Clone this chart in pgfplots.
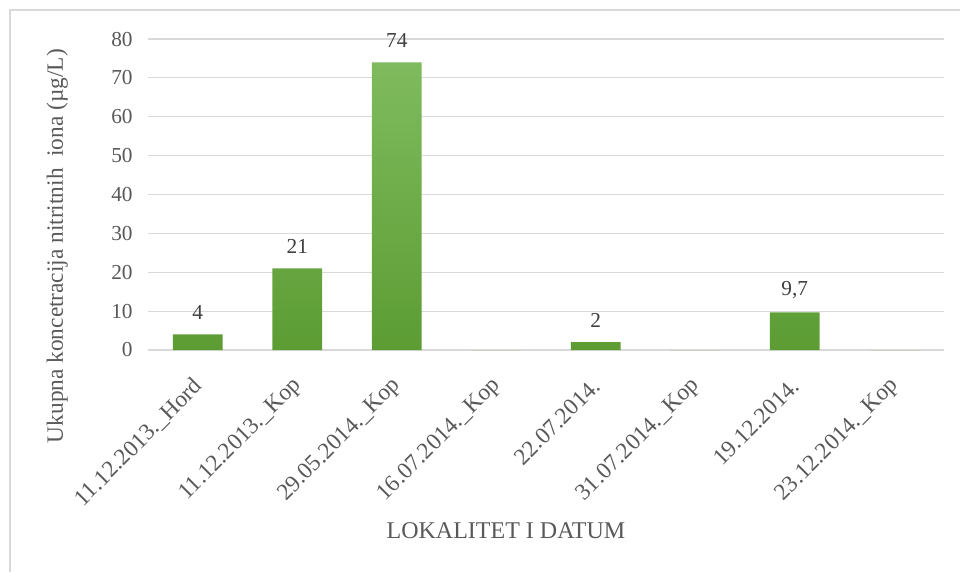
\documentclass[border=0pt]{standalone}
\usepackage{fontspec}
\setmainfont{Liberation Serif}
\usepackage{pgfplots}
\pgfplotsset{compat=1.18}
\definecolor{gridc}{HTML}{D9D9D9}
\definecolor{framec}{HTML}{D9D9D9}
\definecolor{txt}{HTML}{595959}
\definecolor{lbl}{HTML}{404040}
\definecolor{barTop}{HTML}{7FBB5E}
\definecolor{barBot}{HTML}{5C9C33}
\begin{document}
\begin{tikzpicture}[x=1pt,y=1pt]
\useasboundingbox (0,0) rectangle (720,429);
\fill[white] (0,0) rectangle (720,429);
\draw[framec, line width=1.2pt] (7.5,0) -- (7.5,421.5) -- (720,421.5);
\begin{axis}[
  at={(111pt,166.5pt)}, anchor=south west,
  scale only axis, width=597pt, height=233.25pt,
  xmin=-0.5, xmax=7.5, ymin=0, ymax=80,
  ytick={0,10,...,80},
  xtick={0,...,7},
  xticklabels={11.12.2013.\_Hord, 11.12.2013.\_Kop, 29.05.2014.\_Kop, 16.07.2014.\_Kop, 22.07.2014., 31.07.2014.\_Kop, 19.12.2014., 23.12.2014.\_Kop},
  ymajorgrids, grid style={gridc, line width=0.9pt},
  axis x line*=bottom, axis y line*=left,
  x axis line style={gridc, line width=1pt, -},
  y axis line style={draw=none},
  major tick length=0pt,
  /pgf/number format/assume math mode=true,
  tick label style={text=txt},
  yticklabel style={font=\fontsize{16}{18}\selectfont, anchor=east, xshift=-8pt},
  xticklabel style={font=\fontsize{17.5}{20}\selectfont, yshift=-22pt, xshift=3pt, rotate=45, anchor=east},
  ylabel={Ukupna koncetracija nitritnih\ \ iona (µg/L)},
  ylabel style={font=\fontsize{17.5}{20}\selectfont, text=txt, at={(axis description cs:-0.114,0.334)}, anchor=center, rotate=0},
  xlabel={LOKALITET I DATUM},
  xlabel style={font=\fontsize{18}{20}\selectfont, text=txt, at={(axis description cs:0.4497,-0.582)}, anchor=center},
  ybar, bar width=0.5, bar shift=0pt,
  point meta=explicit symbolic,
  nodes near coords,
  nodes near coords style={font=\fontsize{16}{18}\selectfont, text=lbl, anchor=center, yshift=16.5pt},
  clip=false,
]
\addplot[draw=none, top color=barTop, bottom color=barBot, shading angle=0] coordinates {
  (0,4) [4]
  (1,21) [21]
  (2,74) [74]
  (3,0) []
  (4,2) [2]
  (5,0) []
  (6,9.7) [{9,7}]
  (7,0) []
};
\end{axis}
\end{tikzpicture}
\end{document}
